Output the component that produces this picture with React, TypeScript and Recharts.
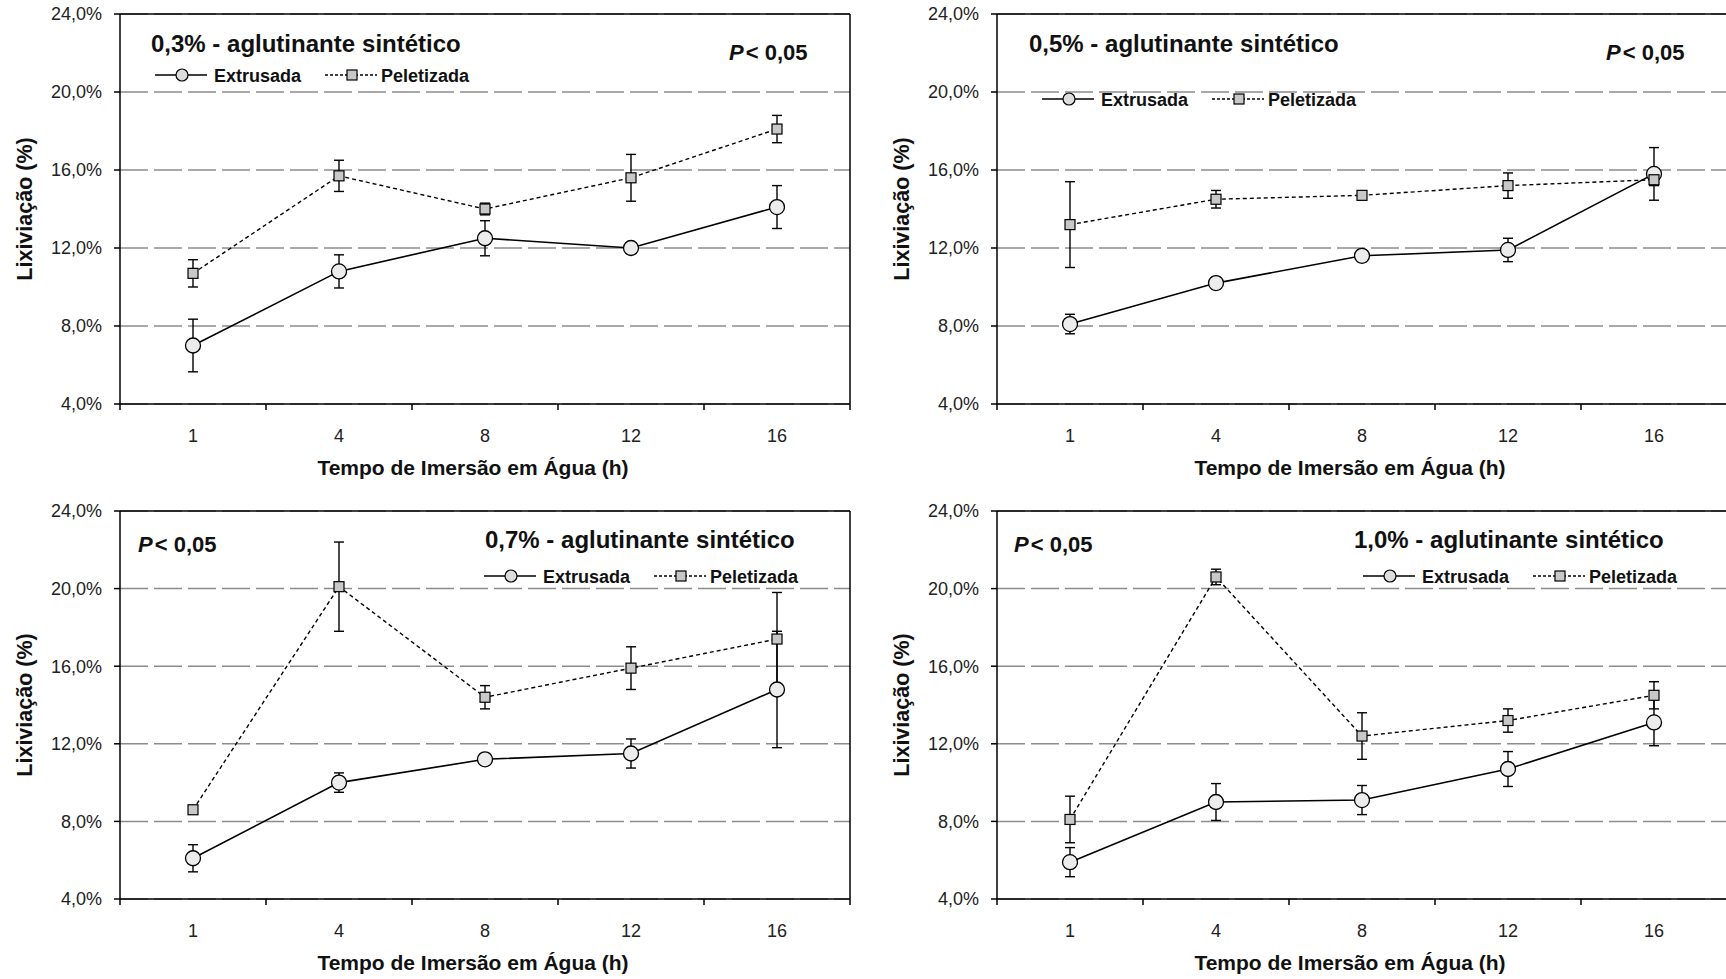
import React from "react";
import {
  LineChart,
  Line,
  XAxis,
  YAxis,
  CartesianGrid,
  ErrorBar,
  ReferenceLine,
  Label,
} from "recharts";

const FONT = "'Liberation Sans', Arial, Helvetica, sans-serif";

// categories (hours of immersion) and y ticks
const hours = ["1", "4", "8", "12", "16"];
const yTicks = [4, 8, 12, 16, 20, 24];
const xTicks = [0, 0.5, 1, 1.5, 2, 2.5, 3, 3.5, 4, 4.5, 5];
const seriesNames = ["Extrusada", "Peletizada"];

// 0,3% - aglutinante sintético
const ext03 = [7.0, 10.8, 12.5, 12.0, 14.1];
const ext03Err = [1.35, 0.85, 0.9, 0.15, 1.1];
const pel03 = [10.7, 15.7, 14.0, 15.6, 18.1];
const pel03Err = [0.7, 0.8, 0.3, 1.2, 0.7];

// 0,5% - aglutinante sintético
const ext05 = [8.1, 10.2, 11.6, 11.9, 15.8];
const ext05Err = [0.5, 0.3, 0.3, 0.6, 1.35];
const pel05 = [13.2, 14.5, 14.7, 15.2, 15.5];
const pel05Err = [2.2, 0.45, 0.2, 0.65, 0.3];

// 0,7% - aglutinante sintético
const ext07 = [6.1, 10.0, 11.2, 11.5, 14.8];
const ext07Err = [0.7, 0.5, 0.3, 0.75, 3.0];
const pel07 = [8.6, 20.1, 14.4, 15.9, 17.4];
const pel07Err = [0.15, 2.3, 0.6, 1.1, 2.4];

// 1,0% - aglutinante sintético
const ext10 = [5.9, 9.0, 9.1, 10.7, 13.1];
const ext10Err = [0.75, 0.95, 0.75, 0.9, 1.2];
const pel10 = [8.1, 20.6, 12.4, 13.2, 14.5];
const pel10Err = [1.2, 0.4, 1.2, 0.6, 0.7];

function buildRows(ext: number[], extErr: number[], pel: number[], pelErr: number[]) {
  return hours.map((h, i) => ({
    hour: h,
    pos: i + 0.5,
    ext: ext[i],
    extErr: extErr[i],
    pel: pel[i],
    pelErr: pelErr[i],
  }));
}

const panels = [
  {
    dose: "0,3%",
    rows: buildRows(ext03, ext03Err, pel03, pel03Err),
    left: 0, top: 0, plotH: 390,
    titleX: 151, titleY: 52, pX: 729, pY: 60, legX: 155, legY: 75,
  },
  {
    dose: "0,5%",
    rows: buildRows(ext05, ext05Err, pel05, pel05Err),
    left: 877, top: 0, plotH: 390,
    titleX: 152, titleY: 52, pX: 729, pY: 60, legX: 165, legY: 99,
  },
  {
    dose: "0,7%",
    rows: buildRows(ext07, ext07Err, pel07, pel07Err),
    left: 0, top: 497, plotH: 388,
    titleX: 485, titleY: 51, pX: 138, pY: 55, legX: 484, legY: 79,
  },
  {
    dose: "1,0%",
    rows: buildRows(ext10, ext10Err, pel10, pel10Err),
    left: 877, top: 497, plotH: 388,
    titleX: 477, titleY: 51, pX: 137, pY: 55, legX: 486, legY: 79,
  },
];

function HourTick(props: any) {
  const { x, y, payload } = props;
  const v = payload.value;
  if (Number.isInteger(v)) {
    // tick marks sit between categories, like the original spreadsheet chart
    return <line x1={x} x2={x} y1={y - 25} y2={y - 19} stroke="#000" strokeWidth={1.5} />;
  }
  return (
    <text x={x} y={y} dy="0.71em" textAnchor="middle" fontSize={18} fill="#222" fontFamily={FONT}>
      {hours[Math.floor(v)]}
    </text>
  );
}

function SquareDot(props: any) {
  const { cx, cy, index } = props;
  if (cx == null || cy == null) return null;
  return (
    <rect key={`sq-${index}`} x={cx - 5} y={cy - 5} width={10} height={10}
      fill="#c8c8c8" stroke="#000" strokeWidth={1.2} />
  );
}

function LegendRow({ x, y }: { x: number; y: number }) {
  return (
    <g fontFamily={FONT} fontSize={18} fontWeight={700} fill="#111">
      <line x1={x} x2={x + 52} y1={y} y2={y} stroke="#000" strokeWidth={1.6} />
      <circle cx={x + 27} cy={y} r={6} fill="#ddd" stroke="#000" strokeWidth={1.2} />
      <text x={x + 59} y={y + 6.5}>{seriesNames[0]}</text>
      <line x1={x + 170} x2={x + 222} y1={y} y2={y} stroke="#000" strokeWidth={1.4} strokeDasharray="3 2" />
      <rect x={x + 192} y={y - 5} width={10} height={10} fill="#c8c8c8" stroke="#000" strokeWidth={1.2} />
      <text x={x + 226} y={y + 6.5}>{seriesNames[1]}</text>
    </g>
  );
}

function Panel({ p }: { p: (typeof panels)[number] }) {
  const height = 14 + p.plotH + 76;
  return (
    <div style={{ position: "absolute", left: p.left, top: p.top }}>
      <LineChart width={870} height={height} data={p.rows}
        margin={{ top: 14, right: 20, bottom: 0, left: 0 }}>
        <CartesianGrid vertical={false} stroke="#8c8c8c" strokeWidth={1.5} strokeDasharray="28 6" />
        <XAxis
          dataKey="pos"
          type="number"
          domain={[0, 5]}
          ticks={xTicks}
          interval={0}
          tick={<HourTick />}
          tickLine={false}
          tickSize={6}
          tickMargin={19}
          height={76}
          axisLine={{ stroke: "#000", strokeWidth: 1.5 }}
        >
          <Label
            value="Tempo de Imersão em Água (h)"
            position="insideBottom"
            offset={5}
            dx={-12}
            fill="#111"
            style={{ fontFamily: FONT, fontSize: 21, fontWeight: 700 }}
          />
        </XAxis>
        <YAxis
          type="number"
          domain={[4, 24]}
          ticks={yTicks}
          interval={0}
          width={120}
          tickSize={6}
          tickMargin={12}
          tickFormatter={(v: number) => `${v.toFixed(1).replace(".", ",")}%`}
          tick={{ fontSize: 18, fill: "#222", fontFamily: FONT }}
          axisLine={{ stroke: "#000", strokeWidth: 1.5 }}
          tickLine={{ stroke: "#000", strokeWidth: 1.5 }}
        >
          <Label
            value="Lixiviação (%)"
            angle={-90}
            position="insideLeft"
            offset={24}
            fill="#111"
            style={{ textAnchor: "middle", fontFamily: FONT, fontSize: 21.5, fontWeight: 700 }}
          />
        </YAxis>
        <ReferenceLine y={24} stroke="#000" strokeWidth={1.5} />
        <ReferenceLine x={5} stroke="#000" strokeWidth={1.5} />
        <Line
          type="linear"
          dataKey="ext"
          name={seriesNames[0]}
          stroke="#000"
          strokeWidth={1.6}
          dot={{ r: 7.5, fill: "#ececec", stroke: "#000", strokeWidth: 1.3 }}
          isAnimationActive={false}
        >
          <ErrorBar dataKey="extErr" width={5} stroke="#000" strokeWidth={1.4} direction="y" />
        </Line>
        <Line
          type="linear"
          dataKey="pel"
          name={seriesNames[1]}
          stroke="#000"
          strokeWidth={1.4}
          strokeDasharray="4 3"
          dot={<SquareDot />}
          isAnimationActive={false}
        >
          <ErrorBar dataKey="pelErr" width={5} stroke="#000" strokeWidth={1.4} direction="y" />
        </Line>
        <text x={p.titleX} y={p.titleY} fontFamily={FONT} fontSize={24} fontWeight={700} fill="#111">
          <tspan>{`${p.dose} - aglutinante`}</tspan>
          <tspan dx={7}>sintético</tspan>
        </text>
        <text x={p.pX} y={p.pY} fontFamily={FONT} fontSize={22} fontWeight={700} fill="#111">
          <tspan fontStyle="italic">P</tspan>
          <tspan dx={2}>{"< 0,05"}</tspan>
        </text>
        <LegendRow x={p.legX} y={p.legY} />
      </LineChart>
    </div>
  );
}

export default function App() {
  return (
    <div style={{ position: "absolute", left: 0, top: 0, width: 1726, height: 979, overflow: "hidden", background: "#fff" }}>
      {panels.map((p) => (
        <Panel key={p.dose} p={p} />
      ))}
    </div>
  );
}
